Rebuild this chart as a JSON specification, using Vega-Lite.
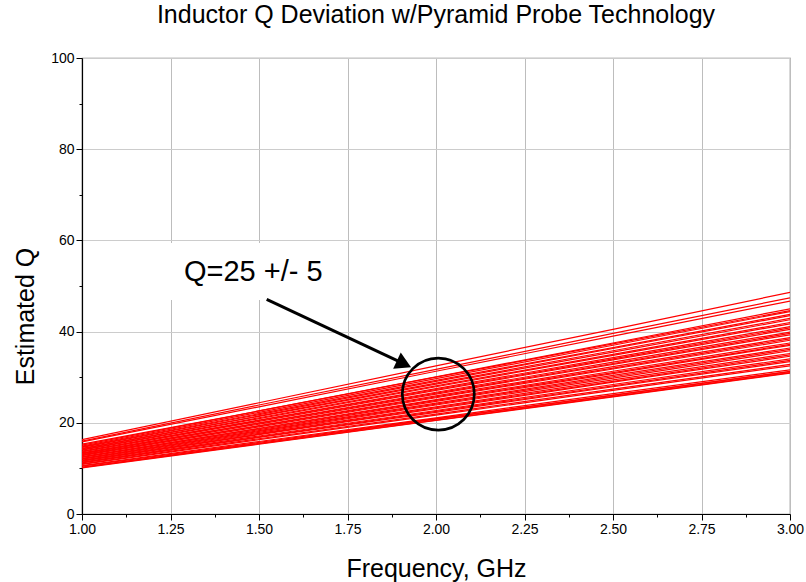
{
  "$schema": "https://vega.github.io/schema/vega-lite/v6.json",
  "width": 708,
  "height": 456,
  "autosize": {"type": "none"},
  "padding": {"left": 82, "top": 58, "right": 16, "bottom": 68},
  "background": "white",
  "title": {"text": "Inductor Q Deviation w/Pyramid Probe Technology", "fontSize": 25, "fontWeight": "normal", "font": "Liberation Sans", "color": "black", "offset": 23, "anchor": "middle"},
  "config": {
    "font": "Liberation Sans",
    "view": {"stroke": "#808080", "strokeWidth": 1.2}
  },
  "datasets": {
    "curves": [
      {"s":1,"f":1,"q":16.3},{"s":1,"f":1.5,"q":24.4},{"s":1,"f":2,"q":32.5},{"s":1,"f":2.5,"q":40.5},{"s":1,"f":3,"q":48.6},
      {"s":2,"f":1,"q":16.0},{"s":2,"f":1.5,"q":23.9},{"s":2,"f":2,"q":31.7},{"s":2,"f":2.5,"q":39.6},{"s":2,"f":3,"q":47.4},
      {"s":3,"f":1,"q":15.8},{"s":3,"f":1.5,"q":23.5},{"s":3,"f":2,"q":31.3},{"s":3,"f":2.5,"q":39.0},{"s":3,"f":3,"q":46.7},
      {"s":4,"f":1,"q":15.3},{"s":4,"f":1.5,"q":22.6},{"s":4,"f":2,"q":30.0},{"s":4,"f":2.5,"q":37.3},{"s":4,"f":3,"q":44.6},
      {"s":5,"f":1,"q":15.1},{"s":5,"f":1.5,"q":22.6},{"s":5,"f":2,"q":30.1},{"s":5,"f":2.5,"q":37.5},{"s":5,"f":3,"q":45.0},
      {"s":6,"f":1,"q":14.9},{"s":6,"f":1.5,"q":22.3},{"s":6,"f":2,"q":29.7},{"s":6,"f":2.5,"q":37.0},{"s":6,"f":3,"q":44.4},
      {"s":7,"f":1,"q":14.7},{"s":7,"f":1.5,"q":22.0},{"s":7,"f":2,"q":29.3},{"s":7,"f":2.5,"q":36.5},{"s":7,"f":3,"q":43.8},
      {"s":8,"f":1,"q":14.6},{"s":8,"f":1.5,"q":21.8},{"s":8,"f":2,"q":29.1},{"s":8,"f":2.5,"q":36.3},{"s":8,"f":3,"q":43.5},
      {"s":9,"f":1,"q":14.4},{"s":9,"f":1.5,"q":21.5},{"s":9,"f":2,"q":28.7},{"s":9,"f":2.5,"q":35.8},{"s":9,"f":3,"q":42.9},
      {"s":10,"f":1,"q":14.3},{"s":10,"f":1.5,"q":21.4},{"s":10,"f":2,"q":28.5},{"s":10,"f":2.5,"q":35.5},{"s":10,"f":3,"q":42.6},
      {"s":11,"f":1,"q":14.1},{"s":11,"f":1.5,"q":21.1},{"s":11,"f":2,"q":28.1},{"s":11,"f":2.5,"q":35.0},{"s":11,"f":3,"q":42.0},
      {"s":12,"f":1,"q":14.0},{"s":12,"f":1.5,"q":20.9},{"s":12,"f":2,"q":27.9},{"s":12,"f":2.5,"q":34.8},{"s":12,"f":3,"q":41.7},
      {"s":13,"f":1,"q":13.8},{"s":13,"f":1.5,"q":20.6},{"s":13,"f":2,"q":27.5},{"s":13,"f":2.5,"q":34.3},{"s":13,"f":3,"q":41.1},
      {"s":14,"f":1,"q":13.7},{"s":14,"f":1.5,"q":20.5},{"s":14,"f":2,"q":27.3},{"s":14,"f":2.5,"q":34.0},{"s":14,"f":3,"q":40.8},
      {"s":15,"f":1,"q":13.6},{"s":15,"f":1.5,"q":20.3},{"s":15,"f":2,"q":27.1},{"s":15,"f":2.5,"q":33.8},{"s":15,"f":3,"q":40.5},
      {"s":16,"f":1,"q":13.4},{"s":16,"f":1.5,"q":20.0},{"s":16,"f":2,"q":26.7},{"s":16,"f":2.5,"q":33.3},{"s":16,"f":3,"q":39.9},
      {"s":17,"f":1,"q":13.3},{"s":17,"f":1.5,"q":19.9},{"s":17,"f":2,"q":26.5},{"s":17,"f":2.5,"q":33.0},{"s":17,"f":3,"q":39.6},
      {"s":18,"f":1,"q":13.2},{"s":18,"f":1.5,"q":19.7},{"s":18,"f":2,"q":26.3},{"s":18,"f":2.5,"q":32.8},{"s":18,"f":3,"q":39.3},
      {"s":19,"f":1,"q":13.0},{"s":19,"f":1.5,"q":19.4},{"s":19,"f":2,"q":25.9},{"s":19,"f":2.5,"q":32.3},{"s":19,"f":3,"q":38.7},
      {"s":20,"f":1,"q":12.9},{"s":20,"f":1.5,"q":19.3},{"s":20,"f":2,"q":25.7},{"s":20,"f":2.5,"q":32.0},{"s":20,"f":3,"q":38.4},
      {"s":21,"f":1,"q":12.8},{"s":21,"f":1.5,"q":19.1},{"s":21,"f":2,"q":25.5},{"s":21,"f":2.5,"q":31.8},{"s":21,"f":3,"q":38.1},
      {"s":22,"f":1,"q":12.6},{"s":22,"f":1.5,"q":18.8},{"s":22,"f":2,"q":25.1},{"s":22,"f":2.5,"q":31.3},{"s":22,"f":3,"q":37.5},
      {"s":23,"f":1,"q":12.5},{"s":23,"f":1.5,"q":18.7},{"s":23,"f":2,"q":24.9},{"s":23,"f":2.5,"q":31.0},{"s":23,"f":3,"q":37.2},
      {"s":24,"f":1,"q":12.4},{"s":24,"f":1.5,"q":18.5},{"s":24,"f":2,"q":24.7},{"s":24,"f":2.5,"q":30.8},{"s":24,"f":3,"q":37.0},
      {"s":25,"f":1,"q":12.2},{"s":25,"f":1.5,"q":18.3},{"s":25,"f":2,"q":24.3},{"s":25,"f":2.5,"q":30.4},{"s":25,"f":3,"q":36.4},
      {"s":26,"f":1,"q":12.1},{"s":26,"f":1.5,"q":18.1},{"s":26,"f":2,"q":24.1},{"s":26,"f":2.5,"q":30.1},{"s":26,"f":3,"q":36.1},
      {"s":27,"f":1,"q":12.0},{"s":27,"f":1.5,"q":17.9},{"s":27,"f":2,"q":23.9},{"s":27,"f":2.5,"q":29.8},{"s":27,"f":3,"q":35.8},
      {"s":28,"f":1,"q":11.8},{"s":28,"f":1.5,"q":17.7},{"s":28,"f":2,"q":23.5},{"s":28,"f":2.5,"q":29.4},{"s":28,"f":3,"q":35.2},
      {"s":29,"f":1,"q":11.7},{"s":29,"f":1.5,"q":17.5},{"s":29,"f":2,"q":23.3},{"s":29,"f":2.5,"q":29.1},{"s":29,"f":3,"q":34.9},
      {"s":30,"f":1,"q":11.6},{"s":30,"f":1.5,"q":17.4},{"s":30,"f":2,"q":23.1},{"s":30,"f":2.5,"q":28.9},{"s":30,"f":3,"q":34.6},
      {"s":31,"f":1,"q":11.4},{"s":31,"f":1.5,"q":17.1},{"s":31,"f":2,"q":22.7},{"s":31,"f":2.5,"q":28.4},{"s":31,"f":3,"q":34.0},
      {"s":32,"f":1,"q":11.3},{"s":32,"f":1.5,"q":16.9},{"s":32,"f":2,"q":22.5},{"s":32,"f":2.5,"q":28.1},{"s":32,"f":3,"q":33.7},
      {"s":33,"f":1,"q":11.2},{"s":33,"f":1.5,"q":16.8},{"s":33,"f":2,"q":22.3},{"s":33,"f":2.5,"q":27.9},{"s":33,"f":3,"q":33.4},
      {"s":34,"f":1,"q":11.0},{"s":34,"f":1.5,"q":16.5},{"s":34,"f":2,"q":21.9},{"s":34,"f":2.5,"q":27.4},{"s":34,"f":3,"q":32.8},
      {"s":35,"f":1,"q":10.9},{"s":35,"f":1.5,"q":16.3},{"s":35,"f":2,"q":21.7},{"s":35,"f":2.5,"q":27.1},{"s":35,"f":3,"q":32.5},
      {"s":36,"f":1,"q":10.6},{"s":36,"f":1.5,"q":15.9},{"s":36,"f":2,"q":21.1},{"s":36,"f":2.5,"q":26.4},{"s":36,"f":3,"q":31.6},
      {"s":37,"f":1,"q":10.5},{"s":37,"f":1.5,"q":15.7},{"s":37,"f":2,"q":20.9},{"s":37,"f":2.5,"q":26.1},{"s":37,"f":3,"q":31.3},
      {"s":38,"f":1,"q":10.3},{"s":38,"f":1.5,"q":15.5},{"s":38,"f":2,"q":20.8},{"s":38,"f":2.5,"q":26.0},{"s":38,"f":3,"q":31.2},
      {"s":39,"f":1,"q":10.2},{"s":39,"f":1.5,"q":15.4},{"s":39,"f":2,"q":20.6},{"s":39,"f":2.5,"q":25.8},{"s":39,"f":3,"q":31.0},
      {"s":40,"f":1,"q":10.1},{"s":40,"f":1.5,"q":15.3},{"s":40,"f":2,"q":20.5},{"s":40,"f":2.5,"q":25.7},{"s":40,"f":3,"q":30.9}
    ]
  },
  "layer": [
    {
      "data": {"name": "curves"},
      "mark": {"type": "line", "color": "#ff0000", "strokeWidth": 1.2, "clip": true},
      "encoding": {
        "x": {
          "field": "f", "type": "quantitative",
          "scale": {"domain": [1, 3], "nice": false, "zero": false},
          "axis": {
            "title": "Frequency, GHz",
            "titleFontSize": 25, "titleFontWeight": "normal", "titleColor": "black", "titlePadding": 20,
            "values": [1,1.125,1.25,1.375,1.5,1.625,1.75,1.875,2,2.125,2.25,2.375,2.5,2.625,2.75,2.875,3],
            "labelExpr": "(datum.value * 8) % 2 === 0 ? format(datum.value, '.2f') : ''",
            "labelFontSize": 14, "labelColor": "black", "labelPadding": 2, "labelFlush": false, "labelOverlap": false,
            "domainColor": "black", "domainWidth": 1.2,
            "tickColor": "black",
            "tickSize": {"condition": {"test": "(datum.value * 8) % 2 !== 0", "value": 3}, "value": 6},
            "grid": true, "gridColor": "#bdbdbd", "gridWidth": 1,
            "gridOpacity": {"condition": {"test": "(datum.value * 8) % 2 !== 0", "value": 0}, "value": 1}
          }
        },
        "y": {
          "field": "q", "type": "quantitative",
          "scale": {"domain": [0, 100], "nice": false, "zero": false},
          "axis": {
            "title": "Estimated Q",
            "titleFontSize": 25, "titleFontWeight": "normal", "titleColor": "black", "titlePadding": 12, "titleY": 258,
            "values": [0,10,20,30,40,50,60,70,80,90,100],
            "labelExpr": "datum.value % 20 === 0 ? datum.label : ''",
            "labelFontSize": 14, "labelColor": "black", "labelPadding": 2, "labelOverlap": false, "labelFlush": false,
            "domainColor": "black", "domainWidth": 1.2,
            "tickColor": "black",
            "tickSize": {"condition": {"test": "datum.value % 20 !== 0", "value": 3}, "value": 6},
            "grid": true, "gridColor": "#cccccc", "gridWidth": 1,
            "gridOpacity": {"condition": {"test": "datum.value % 20 !== 0", "value": 0}, "value": 1}
          }
        },
        "detail": {"field": "s", "type": "nominal"},
        "order": {"field": "f", "type": "quantitative"}
      }
    },
    {
      "data": {"values": [{"x1": 1.2203, "x2": 1.743, "y1": 59.43, "y2": 46.93}]},
      "mark": {"type": "rect", "fill": "white", "stroke": null},
      "encoding": {
        "x": {"field": "x1", "type": "quantitative"},
        "x2": {"field": "x2"},
        "y": {"field": "y1", "type": "quantitative"},
        "y2": {"field": "y2"}
      }
    },
    {
      "data": {"values": [{"x": 1.4839, "y": 51.2, "label": "Q=25 +/- 5"}]},
      "mark": {"type": "text", "fontSize": 29, "font": "Liberation Sans", "color": "black", "align": "center", "baseline": "alphabetic"},
      "encoding": {
        "x": {"field": "x", "type": "quantitative"},
        "y": {"field": "y", "type": "quantitative"},
        "text": {"field": "label"}
      }
    },
    {
      "data": {"values": [{"x1": 1.5217, "y1": 47.08, "x2": 1.9085, "y2": 32.98}]},
      "mark": {"type": "rule", "color": "black", "strokeWidth": 3},
      "encoding": {
        "x": {"field": "x1", "type": "quantitative"},
        "x2": {"field": "x2"},
        "y": {"field": "y1", "type": "quantitative"},
        "y2": {"field": "y2"}
      }
    },
    {
      "data": {"values": [{"x": 1.9096, "y": 32.9}]},
      "mark": {"type": "point", "shape": "triangle-right", "angle": 25, "size": 324, "filled": true, "color": "black", "opacity": 1},
      "encoding": {
        "x": {"field": "x", "type": "quantitative"},
        "y": {"field": "y", "type": "quantitative"}
      }
    },
    {
      "data": {"values": [{"x": 2.0065, "y": 26.3}]},
      "mark": {"type": "point", "shape": "circle", "size": 5184, "filled": false, "fill": null, "stroke": "black", "strokeWidth": 2.7, "opacity": 1},
      "encoding": {
        "x": {"field": "x", "type": "quantitative"},
        "y": {"field": "y", "type": "quantitative"}
      }
    }
  ]
}
